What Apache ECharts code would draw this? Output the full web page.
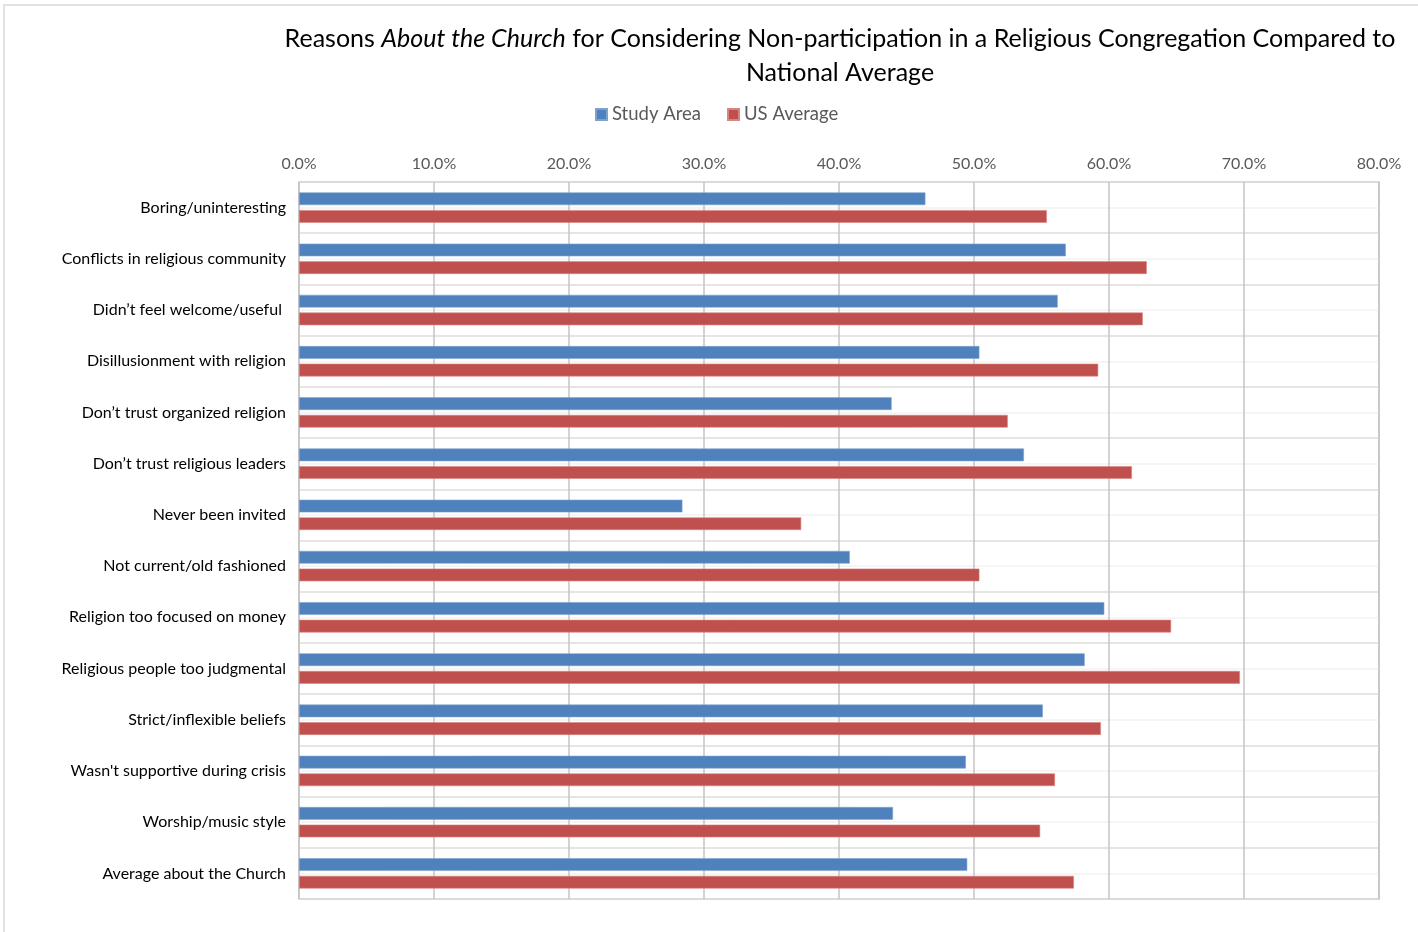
<!DOCTYPE html>
<html>
<head>
<meta charset="utf-8">
<title>Reasons About the Church</title>
<script src="https://cdn.jsdelivr.net/npm/echarts@6/dist/echarts.min.js"></script>
<style>
  html, body { margin: 0; padding: 0; background: #fff; }
  #chart { width: 1418px; height: 932px; }
</style>
</head>
<body>
<div id="chart"></div>
<script>
// Reasons listed top to bottom
const categories = [
  'Boring/uninteresting',
  'Conflicts in religious community',
  'Didn\u2019t feel welcome/useful ',
  'Disillusionment with religion',
  'Don\u2019t trust organized religion',
  'Don\u2019t trust religious leaders',
  'Never been invited',
  'Not current/old fashioned',
  'Religion too focused on money',
  'Religious people too judgmental',
  'Strict/inflexible beliefs',
  'Wasn\'t supportive during crisis',
  'Worship/music style',
  'Average about the Church'
];

// Percent of respondents
const studyArea = [46.4, 56.8, 56.2, 50.4, 43.9, 53.7, 28.4, 40.8, 59.65, 58.2, 55.1, 49.4, 44.0, 49.5];
const usAverage = [55.4, 62.8, 62.5, 59.2, 52.5, 61.7, 37.2, 50.4, 64.6, 69.7, 59.4, 56.0, 54.9, 57.4];

const xTicks = { min: 0, max: 80, step: 10 };

const FONT = 'Lato, "Open Sans", "Liberation Sans", sans-serif';

const chart = echarts.init(document.getElementById('chart'), null, { renderer: 'canvas' });

chart.setOption({
  backgroundColor: '#ffffff',
  animation: false,
  textStyle: { fontFamily: FONT },
  graphic: [{
    type: 'rect',
    shape: { x: 4, y: 5, width: 1500, height: 1000 },
    style: { fill: 'none', stroke: '#d9d9d9', lineWidth: 1.5 },
    silent: true
  }],
  title: {
    left: 835,
    top: 17,
    textAlign: 'center',
    text: '{n|Reasons }{i|About the Church}{n| for Considering Non-participation in a Religious Congregation Compared to}\n{n|National Average}',
    textStyle: {
      fontWeight: 'normal',
      rich: {
        n: { fontFamily: FONT, fontSize: 25, fontWeight: 'normal', color: '#000', lineHeight: 34 },
        i: { fontFamily: FONT, fontSize: 25, fontWeight: 'normal', color: '#000', fontStyle: 'italic', lineHeight: 34 }
      }
    }
  },
  legend: {
    left: 590,
    top: 100,
    orient: 'horizontal',
    itemWidth: 11,
    itemHeight: 11,
    itemGap: 26,
    icon: 'rect',
    textStyle: { fontFamily: FONT, fontSize: 18.5, color: '#595959' },
    data: ['Study Area', 'US Average']
  },
  grid: {
    left: 299,
    top: 182,
    width: 1080,
    height: 717,
    show: true,
    borderColor: '#c4c4c4',
    borderWidth: 1.5,
    containLabel: false
  },
  xAxis: {
    type: 'value',
    position: 'top',
    min: xTicks.min,
    max: xTicks.max,
    interval: xTicks.step,
    axisLine: { show: false },
    axisTick: { show: false },
    axisLabel: {
      fontFamily: FONT,
      fontSize: 16,
      color: '#595959',
      margin: 10,
      formatter: v => v.toFixed(1) + '%'
    },
    splitLine: { show: true, lineStyle: { color: '#c4c4c4', width: 1.5 } }
  },
  yAxis: [{
    type: 'category',
    data: categories,
    inverse: true,
    axisLine: { show: false },
    axisTick: { show: false },
    splitLine: { show: false },
    axisLabel: {
      fontFamily: FONT,
      fontSize: 16,
      color: '#000',
      margin: 13,
      padding: [3, 0, 0, 0]
    }
  }, {
    // band boundaries and band centres as horizontal rules
    type: 'value',
    min: 0,
    max: categories.length,
    interval: 1,
    axisLine: { show: false },
    axisTick: { show: false },
    axisLabel: { show: false },
    splitLine: { show: true, lineStyle: { color: '#dcdcdc', width: 1.5 } },
    minorTick: { show: false, splitNumber: 2 },
    minorSplitLine: { show: true, lineStyle: { color: '#f2f2f2', width: 1.5 } }
  }],
  series: [{
    name: 'Study Area',
    type: 'bar',
    yAxisIndex: 0,
    data: studyArea,
    barWidth: 12.7,
    barGap: '39%',
    itemStyle: { color: '#4f81bd', borderColor: '#7da2d1', borderWidth: 0.6 }
  }, {
    name: 'US Average',
    type: 'bar',
    yAxisIndex: 0,
    data: usAverage,
    barWidth: 12.7,
    barGap: '39%',
    itemStyle: { color: '#c0504d', borderColor: '#d68583', borderWidth: 0.6 }
  }]
});
</script>
</body>
</html>
